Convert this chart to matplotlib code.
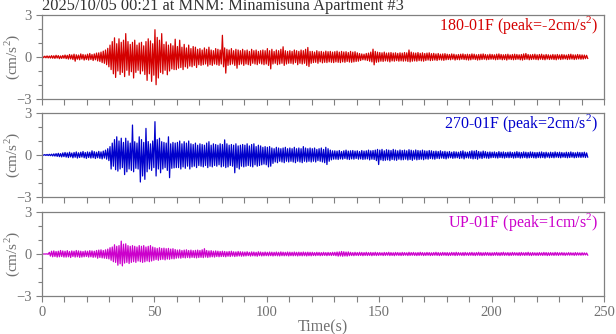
"""
Three-component acceleration record, Minamisuna Apartment #3 (2025/10/05 00:21).
Per-second positive / negative peaks read off the reference picture.
"""

import matplotlib
matplotlib.use("Agg")
import matplotlib.pyplot as plt
from matplotlib.ticker import MultipleLocator

plt.rcParams["font.family"] = ["Liberation Serif", "DejaVu Serif"]
plt.rcParams["mathtext.fontset"] = "custom"
plt.rcParams["mathtext.rm"] = "Liberation Serif"

TITULO = "2025/10/05 00:21 at MNM: Minamisuna Apartment #3"
CANALES = ["180-01F", "270-01F", "UP-01F"]
PICOS = ["-2", "2", "1"]
COLORES = ["#d40000", "#0000cc", "#cc00cc"]

# maximo positivo de cada segundo (0..242 s)
R180_POS = [
    0.05, 0.06, 0.08, 0.07, 0.10, 0.09, 0.12, 0.10, 0.08, 0.11,
    0.14, 0.12, 0.18, 0.15, 0.20, 0.16, 0.14, 0.22, 0.18, 0.15,
    0.20, 0.25, 0.18, 0.22, 0.28, 0.30, 0.35, 0.42, 0.50, 0.62,
    0.85, 1.10, 1.37, 0.95, 1.30, 1.05, 1.20, 1.67, 1.10, 0.90,
    1.05, 1.20, 0.85, 1.00, 1.05, 0.80, 1.10, 1.30, 1.15, 0.95,
    1.95, 1.40, 1.20, 1.67, 0.90, 1.08, 0.85, 0.95, 0.80, 1.27,
    0.75, 1.20, 0.70, 0.90, 0.65, 0.85, 0.60, 0.75, 0.70, 0.55,
    0.60, 0.50, 0.65, 0.55, 0.70, 0.50, 0.45, 0.60, 0.55, 0.50,
    1.55, 0.65, 0.55, 0.50, 0.60, 0.45, 0.55, 0.50, 0.45, 0.55,
    0.45, 0.50, 0.40, 0.55, 0.45, 0.50, 0.40, 0.45, 0.50, 0.45,
    0.60, 0.45, 0.55, 0.40, 0.50, 0.45, 0.55, 0.73, 0.45, 0.40,
    0.45, 0.40, 0.50, 0.45, 0.40, 0.50, 0.45, 0.55, 0.68, 0.40,
    0.40, 0.35, 0.45, 0.38, 0.40, 0.35, 0.42, 0.38, 0.40, 0.35,
    0.38, 0.42, 0.35, 0.40, 0.36, 0.38, 0.32, 0.40, 0.35, 0.38,
    0.30, 0.25, 0.22, 0.20, 0.25, 0.28, 0.35, 0.56, 0.40, 0.35,
    0.32, 0.30, 0.35, 0.28, 0.30, 0.32, 0.28, 0.30, 0.26, 0.30,
    0.28, 0.32, 0.30, 0.50, 0.35, 0.30, 0.28, 0.32, 0.26, 0.30,
    0.25, 0.28, 0.30, 0.24, 0.26, 0.22, 0.25, 0.20, 0.22, 0.24,
    0.20, 0.18, 0.22, 0.20, 0.16, 0.18, 0.20, 0.22, 0.18, 0.20,
    0.18, 0.22, 0.20, 0.16, 0.18, 0.20, 0.22, 0.18, 0.16, 0.20,
    0.18, 0.16, 0.20, 0.22, 0.18, 0.16, 0.18, 0.20, 0.15, 0.18,
    0.20, 0.18, 0.16, 0.18, 0.22, 0.25, 0.18, 0.16, 0.18, 0.20,
    0.16, 0.18, 0.20, 0.15, 0.18, 0.16, 0.14, 0.18, 0.16, 0.18,
    0.15, 0.18, 0.16, 0.14, 0.18, 0.20, 0.16, 0.15, 0.18, 0.16,
    0.15, 0.14, 0.12,
]
R180_NEG = [
    -0.05, -0.06, -0.07, -0.08, -0.09, -0.10, -0.08, -0.12, -0.10, -0.09,
    -0.12, -0.15, -0.14, -0.18, -0.30, -0.16, -0.20, -0.15, -0.22, -0.18,
    -0.22, -0.18, -0.25, -0.20, -0.28, -0.32, -0.40, -0.45, -0.55, -0.70,
    -0.90, -1.20, -1.46, -1.00, -1.25, -1.10, -1.40, -0.95, -1.30, -1.05,
    -1.50, -1.10, -0.95, -1.20, -1.00, -1.25, -1.67, -1.20, -1.74, -1.30,
    -1.98, -1.50, -1.10, -1.20, -0.95, -1.27, -1.00, -0.85, -0.90, -0.90,
    -0.80, -0.75, -0.90, -0.70, -0.80, -0.65, -0.70, -0.60, -0.75, -0.55,
    -0.60, -0.55, -0.50, -0.65, -0.55, -0.60, -0.50, -0.55, -0.60, -0.50,
    -0.70, -1.15, -0.60, -0.55, -0.50, -0.60, -0.80, -0.55, -0.50, -0.60,
    -0.50, -0.55, -0.60, -0.45, -0.50, -0.55, -0.45, -0.50, -0.55, -0.50,
    -0.60, -0.85, -0.50, -0.45, -0.55, -0.50, -0.45, -0.60, -0.50, -0.45,
    -0.45, -0.50, -0.40, -0.55, -0.45, -0.50, -0.45, -0.60, -0.68, -0.45,
    -0.40, -0.38, -0.45, -0.35, -0.42, -0.38, -0.40, -0.35, -0.38, -0.40,
    -0.35, -0.38, -0.40, -0.35, -0.38, -0.32, -0.36, -0.38, -0.35, -0.32,
    -0.30, -0.25, -0.20, -0.22, -0.25, -0.30, -0.35, -0.56, -0.38, -0.35,
    -0.30, -0.32, -0.28, -0.30, -0.35, -0.28, -0.30, -0.26, -0.30, -0.28,
    -0.30, -0.28, -0.32, -0.35, -0.30, -0.28, -0.30, -0.26, -0.28, -0.30,
    -0.25, -0.22, -0.26, -0.24, -0.22, -0.25, -0.20, -0.22, -0.24, -0.20,
    -0.18, -0.20, -0.16, -0.22, -0.18, -0.20, -0.16, -0.18, -0.20, -0.22,
    -0.20, -0.16, -0.18, -0.22, -0.20, -0.18, -0.16, -0.20, -0.18, -0.16,
    -0.16, -0.20, -0.18, -0.16, -0.20, -0.18, -0.22, -0.16, -0.18, -0.20,
    -0.18, -0.16, -0.20, -0.22, -0.18, -0.16, -0.20, -0.18, -0.16, -0.18,
    -0.20, -0.16, -0.18, -0.20, -0.15, -0.18, -0.16, -0.18, -0.20, -0.15,
    -0.18, -0.16, -0.14, -0.18, -0.16, -0.15, -0.18, -0.16, -0.14, -0.16,
    -0.15, -0.12, -0.10,
]

B270_POS = [
    0.02, 0.03, 0.04, 0.05, 0.06, 0.08, 0.10, 0.12, 0.10, 0.15,
    0.18, 0.15, 0.20, 0.14, 0.18, 0.22, 0.16, 0.20, 0.25, 0.18,
    0.22, 0.20, 0.30, 0.24, 0.20, 0.26, 0.22, 0.28, 0.35, 0.45,
    0.60, 0.85, 1.10, 1.30, 1.00, 1.20, 0.90, 1.20, 1.00, 0.85,
    2.14, 0.95, 0.85, 1.30, 1.10, 0.90, 1.90, 0.96, 0.80, 1.00,
    2.38, 1.10, 1.20, 0.95, 0.90, 0.85, 1.30, 0.80, 0.90, 0.85,
    0.90, 1.00, 0.80, 0.95, 0.85, 1.00, 0.80, 0.75, 0.85, 0.70,
    0.80, 0.75, 0.70, 0.85, 0.95, 0.70, 0.80, 0.75, 0.70, 0.80,
    0.75, 1.08, 0.80, 0.70, 0.75, 0.70, 0.80, 0.65, 0.70, 0.75,
    0.70, 0.80, 0.65, 0.75, 0.80, 0.60, 0.70, 0.65, 0.55, 0.60,
    0.55, 0.60, 0.50, 0.45, 0.55, 0.50, 0.45, 0.50, 0.55, 0.45,
    0.50, 0.45, 0.55, 0.45, 0.50, 0.45, 0.60, 0.50, 0.45, 0.50,
    0.45, 0.50, 0.40, 0.45, 0.50, 0.40, 0.55, 0.45, 0.35, 0.30,
    0.30, 0.28, 0.32, 0.25, 0.30, 0.35, 0.28, 0.30, 0.32, 0.28,
    0.30, 0.25, 0.32, 0.28, 0.30, 0.35, 0.30, 0.32, 0.35, 0.40,
    0.35, 0.40, 0.30, 0.38, 0.35, 0.32, 0.40, 0.35, 0.30, 0.36,
    0.32, 0.35, 0.30, 0.38, 0.34, 0.30, 0.36, 0.32, 0.30, 0.35,
    0.30, 0.28, 0.32, 0.30, 0.26, 0.28, 0.25, 0.30, 0.24, 0.26,
    0.22, 0.25, 0.20, 0.24, 0.22, 0.20, 0.26, 0.30, 0.22, 0.20,
    0.25, 0.30, 0.28, 0.32, 0.25, 0.22, 0.28, 0.24, 0.20, 0.22,
    0.20, 0.22, 0.18, 0.24, 0.20, 0.22, 0.18, 0.20, 0.22, 0.18,
    0.20, 0.24, 0.20, 0.18, 0.22, 0.20, 0.18, 0.22, 0.20, 0.18,
    0.18, 0.20, 0.22, 0.18, 0.20, 0.16, 0.20, 0.18, 0.22, 0.18,
    0.20, 0.18, 0.16, 0.20, 0.18, 0.22, 0.18, 0.16, 0.20, 0.18,
    0.18, 0.20, 0.15,
]
B270_NEG = [
    -0.02, -0.03, -0.04, -0.05, -0.07, -0.08, -0.10, -0.12, -0.14, -0.12,
    -0.15, -0.18, -0.14, -0.20, -0.16, -0.22, -0.18, -0.15, -0.20, -0.24,
    -0.18, -0.22, -0.20, -0.25, -0.20, -0.24, -0.28, -0.22, -0.30, -0.40,
    -1.00, -0.80, -1.05, -1.15, -1.00, -0.90, -1.40, -1.20, -1.00, -1.10,
    -1.20, -0.95, -1.00, -1.93, -1.50, -1.74, -1.20, -1.00, -1.10, -0.90,
    -1.50, -1.00, -1.27, -1.00, -0.90, -1.10, -1.62, -0.95, -0.92, -0.90,
    -0.90, -1.00, -0.85, -0.95, -0.80, -1.00, -0.85, -0.80, -0.90, -0.75,
    -0.80, -0.85, -0.75, -0.90, -0.80, -0.85, -0.75, -0.80, -0.70, -0.85,
    -0.80, -0.90, -0.85, -0.75, -0.80, -1.27, -0.90, -1.00, -0.80, -0.85,
    -0.80, -0.75, -0.80, -0.85, -0.70, -0.80, -0.75, -0.70, -0.65, -0.70,
    -0.85, -0.80, -0.60, -0.50, -0.55, -0.45, -0.50, -0.55, -0.45, -0.50,
    -0.45, -0.50, -0.55, -0.45, -0.50, -0.55, -0.45, -0.50, -0.45, -0.50,
    -0.45, -0.50, -0.40, -0.45, -0.50, -0.55, -0.68, -0.45, -0.35, -0.30,
    -0.30, -0.32, -0.28, -0.30, -0.25, -0.30, -0.32, -0.28, -0.30, -0.25,
    -0.30, -0.28, -0.32, -0.30, -0.28, -0.35, -0.30, -0.32, -0.40, -0.68,
    -0.35, -0.40, -0.38, -0.35, -0.40, -0.32, -0.36, -0.38, -0.30, -0.35,
    -0.34, -0.30, -0.36, -0.32, -0.38, -0.30, -0.35, -0.32, -0.30, -0.34,
    -0.28, -0.30, -0.25, -0.28, -0.30, -0.24, -0.26, -0.22, -0.25, -0.28,
    -0.22, -0.20, -0.24, -0.22, -0.20, -0.25, -0.22, -0.28, -0.20, -0.22,
    -0.24, -0.28, -0.25, -0.30, -0.22, -0.25, -0.20, -0.22, -0.24, -0.20,
    -0.18, -0.20, -0.22, -0.18, -0.20, -0.22, -0.18, -0.20, -0.18, -0.22,
    -0.20, -0.18, -0.22, -0.20, -0.18, -0.22, -0.20, -0.18, -0.20, -0.22,
    -0.18, -0.20, -0.18, -0.22, -0.16, -0.20, -0.18, -0.20, -0.16, -0.18,
    -0.20, -0.16, -0.18, -0.20, -0.18, -0.16, -0.20, -0.18, -0.16, -0.18,
    -0.16, -0.18, -0.15,
]

UP_POS = [
    0.00, 0.00, 0.01, 0.12, 0.20, 0.22, 0.18, 0.20, 0.25, 0.22,
    0.20, 0.24, 0.18, 0.22, 0.20, 0.25, 0.22, 0.20, 0.18, 0.22,
    0.20, 0.24, 0.22, 0.20, 0.25, 0.28, 0.30, 0.25, 0.30, 0.35,
    0.45, 0.50, 0.66, 0.55, 0.60, 0.92, 0.70, 0.73, 0.60, 0.55,
    0.60, 0.55, 0.50, 0.60, 0.55, 0.60, 0.50, 0.55, 0.60, 0.50,
    0.45, 0.40, 0.45, 0.40, 0.42, 0.38, 0.40, 0.35, 0.38, 0.32,
    0.28, 0.30, 0.25, 0.28, 0.30, 0.25, 0.28, 0.24, 0.26, 0.28,
    0.25, 0.30, 0.38, 0.25, 0.22, 0.24, 0.20, 0.22, 0.20, 0.18,
    0.20, 0.18, 0.16, 0.18, 0.20, 0.16, 0.15, 0.18, 0.16, 0.15,
    0.14, 0.16, 0.12, 0.15, 0.14, 0.12, 0.16, 0.14, 0.12, 0.14,
    0.12, 0.14, 0.13, 0.12, 0.14, 0.12, 0.15, 0.13, 0.12, 0.14,
    0.13, 0.12, 0.14, 0.12, 0.13, 0.12, 0.14, 0.12, 0.13, 0.12,
    0.12, 0.10, 0.12, 0.11, 0.10, 0.12, 0.10, 0.11, 0.10, 0.12,
    0.12, 0.14, 0.15, 0.18, 0.16, 0.14, 0.15, 0.12, 0.10, 0.12,
    0.10, 0.12, 0.11, 0.10, 0.12, 0.10, 0.11, 0.10, 0.12, 0.10,
    0.10, 0.09, 0.11, 0.10, 0.12, 0.10, 0.09, 0.11, 0.10, 0.09,
    0.11, 0.10, 0.09, 0.12, 0.10, 0.11, 0.09, 0.10, 0.12, 0.10,
    0.09, 0.11, 0.10, 0.09, 0.10, 0.12, 0.10, 0.09, 0.11, 0.10,
    0.10, 0.09, 0.11, 0.10, 0.12, 0.10, 0.09, 0.10, 0.11, 0.09,
    0.10, 0.11, 0.09, 0.10, 0.12, 0.10, 0.09, 0.11, 0.10, 0.09,
    0.09, 0.10, 0.11, 0.09, 0.10, 0.12, 0.09, 0.10, 0.09, 0.11,
    0.10, 0.09, 0.10, 0.11, 0.09, 0.10, 0.12, 0.09, 0.10, 0.09,
    0.09, 0.10, 0.09, 0.11, 0.10, 0.09, 0.10, 0.09, 0.11, 0.10,
    0.09, 0.10, 0.09, 0.08, 0.10, 0.09, 0.08, 0.10, 0.09, 0.08,
    0.09, 0.08, 0.07,
]
UP_NEG = [
    0.00, 0.00, -0.02, -0.15, -0.20, -0.18, -0.22, -0.20, -0.18, -0.22,
    -0.22, -0.20, -0.25, -0.18, -0.22, -0.20, -0.24, -0.22, -0.20, -0.18,
    -0.22, -0.20, -0.24, -0.22, -0.30, -0.25, -0.28, -0.30, -0.32, -0.35,
    -0.45, -0.55, -0.60, -0.80, -0.70, -0.85, -0.65, -0.60, -0.68, -0.60,
    -0.55, -0.60, -0.50, -0.55, -0.60, -0.56, -0.50, -0.55, -0.50, -0.45,
    -0.40, -0.45, -0.40, -0.38, -0.42, -0.36, -0.38, -0.34, -0.35, -0.30,
    -0.28, -0.30, -0.26, -0.28, -0.25, -0.28, -0.24, -0.26, -0.28, -0.25,
    -0.24, -0.26, -0.22, -0.25, -0.22, -0.20, -0.22, -0.18, -0.20, -0.18,
    -0.18, -0.20, -0.16, -0.18, -0.15, -0.18, -0.16, -0.14, -0.16, -0.15,
    -0.14, -0.12, -0.15, -0.13, -0.14, -0.16, -0.12, -0.14, -0.13, -0.12,
    -0.13, -0.12, -0.14, -0.12, -0.13, -0.14, -0.12, -0.13, -0.12, -0.14,
    -0.12, -0.13, -0.12, -0.14, -0.12, -0.13, -0.12, -0.14, -0.12, -0.13,
    -0.11, -0.12, -0.10, -0.12, -0.11, -0.10, -0.12, -0.10, -0.11, -0.10,
    -0.12, -0.15, -0.14, -0.16, -0.14, -0.15, -0.12, -0.11, -0.12, -0.10,
    -0.11, -0.10, -0.12, -0.10, -0.11, -0.10, -0.12, -0.10, -0.11, -0.10,
    -0.09, -0.11, -0.10, -0.09, -0.11, -0.10, -0.12, -0.09, -0.10, -0.11,
    -0.10, -0.09, -0.11, -0.10, -0.09, -0.10, -0.11, -0.10, -0.09, -0.11,
    -0.10, -0.09, -0.11, -0.10, -0.09, -0.10, -0.11, -0.10, -0.09, -0.10,
    -0.11, -0.10, -0.09, -0.11, -0.10, -0.09, -0.10, -0.11, -0.09, -0.10,
    -0.09, -0.10, -0.11, -0.09, -0.10, -0.11, -0.10, -0.09, -0.10, -0.11,
    -0.10, -0.09, -0.10, -0.11, -0.09, -0.10, -0.09, -0.11, -0.10, -0.09,
    -0.09, -0.10, -0.11, -0.09, -0.10, -0.09, -0.10, -0.11, -0.09, -0.10,
    -0.10, -0.09, -0.10, -0.09, -0.11, -0.10, -0.09, -0.10, -0.09, -0.10,
    -0.08, -0.09, -0.10, -0.08, -0.09, -0.08, -0.10, -0.09, -0.08, -0.09,
    -0.08, -0.07, -0.08,
]

SERIES = [(R180_POS, R180_NEG), (B270_POS, B270_NEG), (UP_POS, UP_NEG)]

GRIS = "#808080"
W, H = 616, 334


def traza(pos, neg):
    # cada segundo: primero el pico positivo, luego el negativo
    t, a = [0.0], [0.0]
    for i, (p, n) in enumerate(zip(pos, neg)):
        t += [i + 0.25, i + 0.75]
        a += [p, n]
    return t, a


def graficar():
    fig = plt.figure(figsize=(W / 100, H / 100), dpi=100)
    tops = [15, 113, 212]
    alto = 84
    axes = []
    for k, top in enumerate(tops):
        ax = fig.add_axes([42 / W, 1 - (top + alto) / H, 562 / W, alto / H])
        t, a = traza(*SERIES[k])
        ax.plot(t, a, color=COLORES[k], lw=0.9)
        ax.set_xlim(0, 250)
        ax.set_ylim(-3, 3)
        ax.xaxis.set_major_locator(MultipleLocator(50))
        ax.xaxis.set_minor_locator(MultipleLocator(10))
        ax.yaxis.set_major_locator(MultipleLocator(3))
        ax.yaxis.set_minor_locator(MultipleLocator(1))
        ax.tick_params(which="both", direction="out", length=4, width=0.8,
                       color=GRIS, labelcolor="#707070", labelsize=10.5)
        ax.tick_params(axis="y", which="minor", length=3)
        ax.tick_params(axis="x", pad=3)
        if k < 2:
            ax.tick_params(axis="x", labelbottom=False)
        for s in ax.spines.values():
            s.set_color(GRIS)
            s.set_linewidth(0.9)
        ax.set_ylabel("(cm/s$^2$)", color="#707070", fontsize=11, va="center")
        ax.yaxis.set_label_coords(-0.053, 0.5)
        ax.text(0.989, 0.885, f"{CANALES[k]} (peak={PICOS[k]}cm/s$^2$)",
                transform=ax.transAxes, ha="right", va="center",
                color=COLORES[k], fontsize=11.5)
        axes.append(ax)

    axes[-1].set_xlabel("Time(s)", color="#707070", fontsize=11.5)
    axes[-1].xaxis.set_label_coords(0.5, -0.28)
    fig.text(42 / W, 1 - 6.5 / H, TITULO, ha="left", va="center",
             color="#333333", fontsize=11.8)
    fig.savefig("out.png", dpi=100)
    plt.close(fig)


if __name__ == "__main__":
    graficar()
